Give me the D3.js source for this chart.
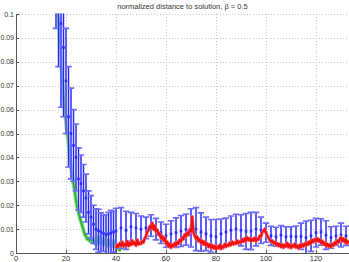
<!DOCTYPE html>
<html><head><meta charset="utf-8">
<script src="https://cdn.jsdelivr.net/npm/d3@7"></script>
<style>body{margin:0;background:#fff}svg{display:block}</style>
</head><body>
<svg id="c" width="349" height="262"></svg>
<script>
const title = "normalized distance to solution, \u03B2 = 0.5";
const xTicks = [0, 20, 40, 60, 80, 100, 120];
const yTicks = [0, 0.01, 0.02, 0.03, 0.04, 0.05, 0.06, 0.07, 0.08, 0.09, 0.1];
const yTickLabels = ["0","0.01","0.02","0.03","0.04","0.05","0.06","0.07","0.08","0.09","0.1"];

// blue: mean with error bars
const blueX = [
16,17,18,19,20,21,22,23,24,25,26,27,28,29,30,31,32,33,34,35,36,37,38,39,40,
42,44,46,48,50,52,54,56,58,60,62,64,66,68,70,72,74,76,78,80,
82,84,86,88,90,92,94,96,98,100,102,104,106,108,110,112,114,116,118,120,
122,124,126,128,130,132];
const blueMean = [
0.112,0.104,0.096,0.086,0.072,0.057,0.050,0.045,0.040,0.031,
0.029,0.026,0.023,0.017,0.015,0.012,0.010,0.0093,0.0088,0.0082,
0.0075,0.0080,0.0084,0.0088,0.0092,
0.0105,0.0095,0.0110,0.0105,0.0100,0.0105,0.0115,0.0100,0.0085,0.0072,
0.0080,0.0085,0.0092,0.0098,0.0105,0.0100,0.0088,0.0080,0.0072,0.0068,
0.0080,0.0088,0.0095,0.0100,0.0095,0.0090,0.0092,0.0100,0.0095,0.0085,
0.0072,0.0068,0.0075,0.0068,0.0070,0.0068,0.0070,0.0064,0.0072,0.0085,
0.0088,0.0075,0.0065,0.0072,0.0075,0.0072];
const blueErr = [
0.018,0.026,0.035,0.029,0.022,0.021,0.019,0.015,0.014,0.013,
0.012,0.011,0.010,0.009,0.009,0.008,0.0085,0.009,0.008,0.0075,
0.0085,0.009,0.0095,0.0085,0.0095,
0.0085,0.0080,0.0060,0.0060,0.0055,0.0045,0.0045,0.0045,0.0045,0.0048,
0.0055,0.0062,0.0065,0.0065,0.0080,0.0090,0.0080,0.0070,0.0068,0.0072,
0.0062,0.0058,0.0060,0.0062,0.0065,0.0075,0.0078,0.0070,0.0055,0.0040,
0.0040,0.0040,0.0040,0.0042,0.0040,0.0045,0.0055,0.0070,0.0065,0.0060,
0.0055,0.0060,0.0045,0.0040,0.0050,0.0040];

// green line, x = 16.5..42 step 0.5
const greenStart = 16.5;
const greenVals = [
0.102,0.098,0.090,0.082,0.072,0.066,0.060,0.055,0.050,0.046,
0.040,0.036,0.032,0.029,0.026,0.022,0.019,0.017,0.015,0.013,
0.0115,0.0095,0.0078,0.0070,0.0058,0.0062,0.0050,0.0065,0.0045,0.0058,
0.0040,0.0052,0.0038,0.0070,0.0042,0.0055,0.0035,0.0062,0.0038,0.0048,
0.0030,0.0055,0.0032,0.0045,0.0028,0.0050,0.0025,0.0038,0.0018,0.0030,
0.0012,0.0020];

// red line, x = 40..133 step 0.5
const redStart = 40;
const redVals = [
0.0020,0.0034,0.0026,0.0041,0.0030,0.0046,0.0027,0.0039,0.0031,0.0050,
0.0029,0.0043,0.0034,0.0052,0.0037,0.0045,0.0031,0.0056,0.0036,0.0042,
0.0038,0.0049,0.0044,0.0062,0.0070,0.0088,0.0095,0.0112,0.0104,0.0126,
0.0098,0.0115,0.0089,0.0097,0.0076,0.0082,0.0061,0.0071,0.0052,0.0064,
0.0038,0.0047,0.0026,0.0040,0.0022,0.0035,0.0028,0.0042,0.0030,0.0046,
0.0039,0.0055,0.0048,0.0066,0.0058,0.0078,0.0069,0.0086,0.0075,0.0098,
0.0090,0.0152,0.0085,0.0072,0.0060,0.0068,0.0049,0.0058,0.0041,0.0052,
0.0036,0.0047,0.0031,0.0040,0.0025,0.0036,0.0022,0.0033,0.0019,0.0030,
0.0016,0.0028,0.0020,0.0034,0.0017,0.0029,0.0023,0.0038,0.0026,0.0035,
0.0030,0.0043,0.0033,0.0047,0.0036,0.0044,0.0038,0.0052,0.0040,0.0048,
0.0045,0.0058,0.0047,0.0062,0.0050,0.0066,0.0054,0.0061,0.0048,0.0059,
0.0052,0.0064,0.0049,0.0060,0.0056,0.0072,0.0068,0.0087,0.0092,0.0101,
0.0084,0.0072,0.0063,0.0055,0.0047,0.0052,0.0040,0.0046,0.0034,0.0041,
0.0029,0.0038,0.0025,0.0036,0.0022,0.0034,0.0027,0.0042,0.0024,0.0035,
0.0021,0.0033,0.0026,0.0039,0.0023,0.0031,0.0019,0.0034,0.0025,0.0037,
0.0028,0.0040,0.0031,0.0045,0.0035,0.0049,0.0040,0.0055,0.0046,0.0058,
0.0050,0.0062,0.0048,0.0057,0.0042,0.0051,0.0035,0.0044,0.0030,0.0039,
0.0027,0.0036,0.0024,0.0038,0.0031,0.0045,0.0037,0.0052,0.0044,0.0058,
0.0066,0.0049,0.0061,0.0045,0.0057,0.0040,0.0052];

const svg = d3.select("#c");
const L = 16, R = 349, T = 14, B = 253;
const x = d3.scaleLinear().domain([0, 133.2]).range([L, R]);
const y = d3.scaleLinear().domain([0, 0.1]).range([B, T]);

svg.append("defs").append("clipPath").attr("id","clip")
  .append("rect").attr("x", L).attr("y", T - 0.5).attr("width", R - L).attr("height", B - T + 0.5);

// grid
const grid = svg.append("g").attr("stroke", "#c8c8c8").attr("stroke-width", 1).attr("stroke-dasharray", "1,2");
xTicks.filter(d => d > 0).forEach(d => grid.append("line")
  .attr("x1", Math.round(x(d)) + 0.5).attr("x2", Math.round(x(d)) + 0.5).attr("y1", T).attr("y2", B));
yTicks.filter(d => d > 0).forEach(d => grid.append("line")
  .attr("x1", L).attr("x2", R).attr("y1", Math.round(y(d)) + 0.5).attr("y2", Math.round(y(d)) + 0.5));

const plot = svg.append("g").attr("clip-path", "url(#clip)");

const blue = blueMean.map((m, i) => ({x: blueX[i], m, e: blueErr[i]}));
const green = greenVals.map((v, i) => ({x: greenStart + i * 0.5, v}));
const red = redVals.map((v, i) => ({x: redStart + i * 0.5, v}));

const line = d3.line().x(d => x(d.x)).y(d => y(d.v));

// green
plot.append("path").datum(green).attr("d", line).attr("fill", "none")
  .attr("stroke", "#8fdc8f").attr("stroke-width", 4).attr("stroke-linejoin", "round");
plot.append("path").datum(green).attr("d", line).attr("fill", "none")
  .attr("stroke", "#2fb52f").attr("stroke-width", 2).attr("stroke-linejoin", "round");

// blue error bars
const cap = 3.2;
const bg = plot.append("g");
blue.forEach(d => {
  const cx = x(d.x), y1 = y(d.m - d.e), y2 = y(d.m + d.e);
  bg.append("line").attr("x1", cx).attr("x2", cx).attr("y1", y1).attr("y2", y2)
    .attr("stroke", "#9c9cff").attr("stroke-width", 2);
  bg.append("line").attr("x1", cx).attr("x2", cx).attr("y1", y1).attr("y2", y2)
    .attr("stroke", "#2222ff").attr("stroke-width", 1);
  [y1, y2].forEach(yy => bg.append("line").attr("x1", cx - cap).attr("x2", cx + cap)
    .attr("y1", yy).attr("y2", yy).attr("stroke", "#6a6aff").attr("stroke-width", 1.6));
  bg.append("rect").attr("x", cx - 1.3).attr("y", y(d.m) - 1.3).attr("width", 2.6).attr("height", 2.6)
    .attr("fill", "#2a2aff");
});

// red (on top)
plot.append("path").datum(red).attr("d", line).attr("fill", "none")
  .attr("stroke", "#ff7070").attr("stroke-width", 3.2).attr("stroke-linejoin", "round");
plot.append("path").datum(red).attr("d", line).attr("fill", "none")
  .attr("stroke", "#f01010").attr("stroke-width", 2).attr("stroke-linejoin", "round");

// axes
const ax = svg.append("g").attr("stroke", "#555").attr("stroke-width", 1);
ax.append("line").attr("x1", L + 0.5).attr("x2", L + 0.5).attr("y1", T).attr("y2", B + 0.5);
ax.append("line").attr("x1", L).attr("x2", R).attr("y1", B + 0.5).attr("y2", B + 0.5);
xTicks.forEach(d => ax.append("line").attr("x1", Math.round(x(d)) + 0.5).attr("x2", Math.round(x(d)) + 0.5)
  .attr("y1", B).attr("y2", B - 3));
yTicks.forEach(d => ax.append("line").attr("x1", L).attr("x2", L + 3)
  .attr("y1", Math.round(y(d)) + 0.5).attr("y2", Math.round(y(d)) + 0.5));

const font = "Liberation Sans, Arial, sans-serif";
svg.append("g").selectAll("text").data(xTicks).join("text")
  .attr("x", d => x(d)).attr("y", B + 7.5).attr("text-anchor", "middle")
  .attr("font-family", font).attr("font-size", 7.5).attr("fill", "#333").text(d => d);
svg.append("g").selectAll("text").data(yTicks).join("text")
  .attr("x", L - 2).attr("y", d => y(d) + 2.5).attr("text-anchor", "end")
  .attr("font-family", font).attr("font-size", 7).attr("fill", "#333").text((d, i) => yTickLabels[i]);

svg.append("text").attr("x", (L + R) / 2).attr("y", 9).attr("text-anchor", "middle")
  .attr("font-family", font).attr("font-size", 7.5).attr("fill", "#333").text(title);
</script>
</body></html>
